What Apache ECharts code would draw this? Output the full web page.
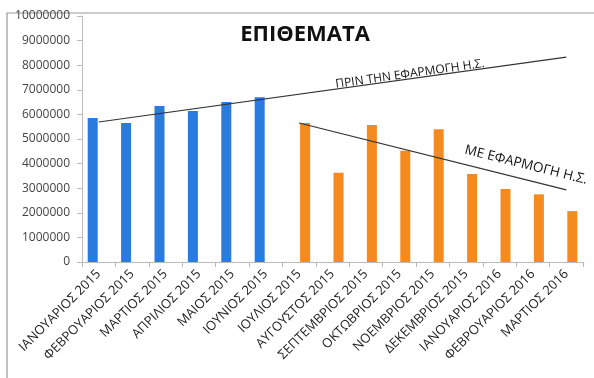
<!DOCTYPE html>
<html>
<head>
<meta charset="utf-8">
<script src="https://cdn.jsdelivr.net/npm/echarts@6/dist/echarts.min.js"></script>
<style>html,body{margin:0;padding:0;background:#fff}#c{width:594px;height:378px}</style>
</head>
<body>
<div id="c"></div>
<script>
var categories = ['ΙΑΝΟΥΑΡΙΟΣ 2015','ΦΕΒΡΟΥΑΡΙΟΣ 2015','ΜΑΡΤΙΟΣ 2015','ΑΠΡΙΛΙΟΣ 2015','ΜΑΙΟΣ 2015','ΙΟΥΝΙΟΣ 2015','ΙΟΥΛΙΟΣ 2015','ΑΥΓΟΥΣΤΟΣ 2015','ΣΕΠΤΕΜΒΡΙΟΣ 2015','ΟΚΤΩΒΡΙΟΣ 2015','ΝΟΕΜΒΡΙΟΣ 2015','ΔΕΚΕΜΒΡΙΟΣ 2015','ΙΑΝΟΥΑΡΙΟΣ 2016','ΦΕΒΡΟΥΑΡΙΟΣ 2016','ΜΑΡΤΙΟΣ 2016'];
var beforeValues = [5850000,5650000,6340000,6140000,6500000,6700000,null,null,null,null,null,null,null,null,null];
var afterValues = [null,null,null,null,null,null,5650000,3630000,5570000,4520000,5400000,3580000,2970000,2750000,2070000];
var trendBefore = [5690000,null,null,null,null,null,null,null,null,null,null,null,null,null,8330000];
var trendAfter = [null,null,null,null,null,null,5650000,null,null,null,null,null,null,null,2930000];
var yTicks = [0,1000000,2000000,3000000,4000000,5000000,6000000,7000000,8000000,9000000,10000000];

var chart = echarts.init(document.getElementById('c'), null, {renderer:'canvas'});
chart.setOption({
  animation:false,
  backgroundColor:'#ffffff',
  title:{text:'ΕΠΙΘΕΜΑΤΑ', left:300, top:19, textAlign:'center',
    textStyle:{fontFamily:'Open Sans', fontWeight:'bold', fontSize:22, color:'#111'}},
  grid:{left:82, right:11, top:16, bottom:116},
  xAxis:{type:'category', data:categories,
    axisLine:{lineStyle:{color:'#bbb'}},
    axisTick:{show:true, alignWithLabel:false, lineStyle:{color:'#bbb'}},
    axisLabel:{rotate:45, interval:0, fontFamily:'Open Sans', fontSize:13, color:'#222', margin:10}},
  yAxis:{type:'value', min:yTicks[0], max:yTicks[yTicks.length-1], interval:1000000,
    splitLine:{show:false},
    axisLine:{show:true, lineStyle:{color:'#bbb'}},
    axisTick:{show:true, lineStyle:{color:'#bbb'}},
    axisLabel:{fontFamily:'Open Sans', fontSize:12, color:'#444', margin:12,
      formatter:function(v){return String(v);}}},
  series:[
    {type:'bar', data:beforeValues, barWidth:10, barGap:'20%', itemStyle:{color:'#2a7be0'}},
    {type:'bar', data:afterValues, barWidth:10, barGap:'20%', itemStyle:{color:'#f58a1f'}},
    {type:'line', data:trendBefore, connectNulls:true, symbol:'none', lineStyle:{color:'#333', width:1.2}},
    {type:'line', data:trendAfter, connectNulls:true, symbol:'none', lineStyle:{color:'#333', width:1.2}}
  ],
  graphic:[
    {type:'rect', shape:{x:7, y:13, width:600, height:380}, style:{fill:'none', stroke:'#999', lineWidth:1.2}, silent:true},
    {type:'text', x:410, y:74, rotation:8*Math.PI/180,
      style:{text:'ΠΡΙΝ ΤΗΝ ΕΦΑΡΜΟΓΗ Η.Σ.', fontFamily:'Open Sans', fontSize:12, fill:'#111', align:'center', verticalAlign:'middle'}},
    {type:'text', x:526, y:165, rotation:-14*Math.PI/180,
      style:{text:'ΜΕ ΕΦΑΡΜΟΓΗ Η.Σ.', fontFamily:'Open Sans', fontSize:13.5, fill:'#111', align:'center', verticalAlign:'middle'}}
  ]
});
</script>
</body>
</html>
